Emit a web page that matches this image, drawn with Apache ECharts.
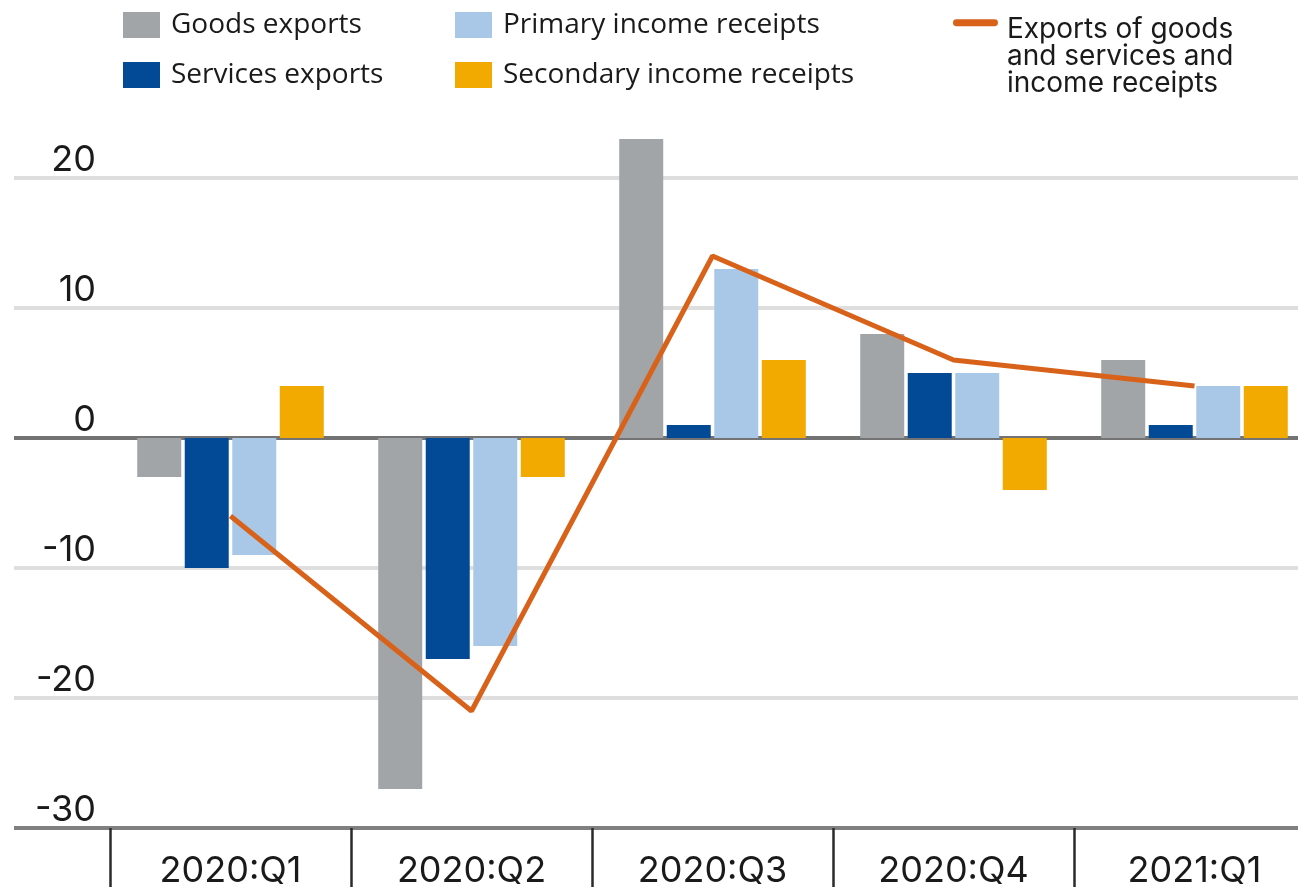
<!DOCTYPE html>
<html>
<head>
<meta charset="utf-8">
<script src="https://cdn.jsdelivr.net/npm/echarts@6/dist/echarts.min.js"></script>
<style>
  html, body { margin: 0; padding: 0; background: #fff; }
  #chart { width: 1298px; height: 887px; }
</style>
</head>
<body>
<div id="chart"></div>
<script>
// Quarterly percent changes
const categories = ['2020:Q1', '2020:Q2', '2020:Q3', '2020:Q4', '2021:Q1'];
const goodsExports = [-3, -27, 23, 8, 6];
const servicesExports = [-10, -17, 1, 5, 1];
const primaryIncome = [-9, -16, 13, 5, 4];
const secondaryIncome = [4, -3, 6, -4, 4];
const totalReceipts = [-6, -21, 14, 6, 4];

// labelled range of the value axis
const yMin = -30;
const yMax = 20;
const yStep = 10;
// the plot scale runs a bit higher so the tallest bar fits
const plotMax = 30;

const LINE_NAME = 'Exports of goods\nand services and\nincome receipts';

const chart = echarts.init(document.getElementById('chart'));

// legend icon for the line: a short bar at the top of a tall box,
// so that it lines up with the first line of the three-line label
const lineIcon = 'path://M3,0 h39 a3.5,3.5 0 0 1 0,7 h-39 a3.5,3.5 0 0 1 0,-7 Z M0,76.9 h0.1 v0.1 h-0.1 Z';

const legendText = {
    fontFamily: 'Open Sans',
    fontSize: 28,
    color: '#1a1a1a',
    padding: [0, 0, 0, 6]
};

const barBase = {
    type: 'bar',
    xAxisIndex: 1,
    yAxisIndex: 1,
    barWidth: 44,
    barGap: '8%',
    clip: false
};

const option = {
    animation: false,
    legend: [
        {
            data: ['Goods exports', 'Services exports'],
            orient: 'vertical',
            left: 123,
            top: 11,
            padding: 0,
            itemWidth: 37,
            itemHeight: 26,
            itemGap: 22,
            icon: 'rect',
            textStyle: legendText
        },
        {
            data: ['Primary income receipts', 'Secondary income receipts'],
            orient: 'vertical',
            left: 455,
            top: 11,
            padding: 0,
            itemWidth: 37,
            itemHeight: 26,
            itemGap: 22,
            icon: 'rect',
            textStyle: legendText
        },
        {
            data: [{ name: LINE_NAME, icon: lineIcon }],
            left: 953,
            top: 16,
            padding: 0,
            itemWidth: 45,
            itemHeight: 77,
            textStyle: {
                fontFamily: 'Inter',
                fontSize: 28,
                lineHeight: 27,
                color: '#1a1a1a',
                padding: [0, 0, 0, 4]
            }
        }
    ],
    grid: [
        // wide background grid: gridlines, y labels and base lines (-30..20)
        { left: 14, right: 0, top: 178, height: 650, outerBoundsMode: 'none' },
        // plot grid for the bars and the line (-30..30, runs past the right edge)
        { left: 110, width: 1205, top: 48, height: 780, outerBoundsMode: 'none' }
    ],
    xAxis: [
        {
            type: 'value',
            gridIndex: 0,
            min: 0,
            max: 1,
            show: false
        },
        {
            type: 'category',
            gridIndex: 1,
            data: categories,
            axisLine: { show: false, onZero: false },
            axisTick: {
                show: true,
                length: 60,
                lineStyle: { color: '#2b2b2b', width: 2.5 }
            },
            axisLabel: {
                margin: 25,
                fontFamily: 'Inter',
                fontSize: 36,
                color: '#1a1a1a'
            }
        }
    ],
    yAxis: [
        {
            type: 'value',
            gridIndex: 0,
            min: yMin,
            max: yMax,
            interval: yStep,
            // axis pulled into the grid so the labels end at x = 96
            offset: -90,
            axisLine: { show: true, lineStyle: { color: 'rgba(0,0,0,0)' } },
            axisTick: { show: true, length: 0 },
            axisLabel: {
                align: 'right',
                verticalAlign: 'bottom',
                margin: 8,
                fontFamily: 'Inter',
                fontSize: 36,
                color: '#1a1a1a'
            },
            splitLine: {
                show: true,
                lineStyle: {
                    width: 4,
                    // bottom base line and zero line are darker
                    color: ['#808080', '#dedede', '#dedede', '#737373', '#dedede', '#dedede']
                }
            }
        },
        {
            type: 'value',
            gridIndex: 1,
            min: yMin,
            max: plotMax,
            interval: yStep,
            show: false
        }
    ],
    series: [
        Object.assign({}, barBase, {
            name: 'Goods exports',
            data: goodsExports,
            itemStyle: { color: '#a2a5a7' }
        }),
        Object.assign({}, barBase, {
            name: 'Services exports',
            data: servicesExports,
            itemStyle: { color: '#024a96' }
        }),
        Object.assign({}, barBase, {
            name: 'Primary income receipts',
            data: primaryIncome,
            itemStyle: { color: '#a9c8e8' }
        }),
        Object.assign({}, barBase, {
            name: 'Secondary income receipts',
            data: secondaryIncome,
            itemStyle: { color: '#f2a900' }
        }),
        {
            name: LINE_NAME,
            type: 'line',
            xAxisIndex: 1,
            yAxisIndex: 1,
            z: 5,
            data: totalReceipts,
            symbol: 'none',
            color: '#d9621b',
            lineStyle: { color: '#d9621b', width: 5 }
        }
    ]
};

chart.setOption(option);
</script>
</body>
</html>
